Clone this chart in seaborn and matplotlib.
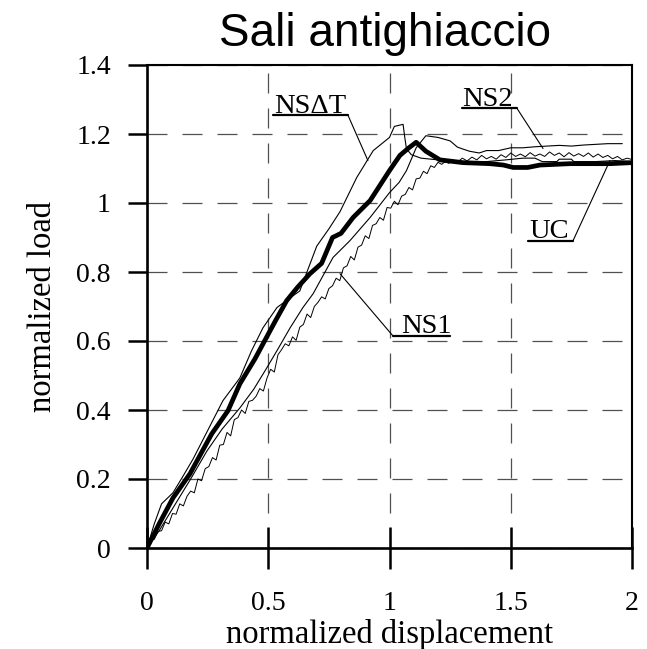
import numpy as np
import pandas as pd
import matplotlib
matplotlib.use("Agg")
import matplotlib.pyplot as plt
import seaborn as sns

# ---- data: normalized load vs normalized displacement ----
uc_x = [0, 0.05, 0.107, 0.177, 0.267, 0.334, 0.383, 0.445, 0.5, 0.53, 0.576, 0.62,
        0.672, 0.72, 0.765, 0.8, 0.85, 0.92, 1.0, 1.043, 1.08, 1.11, 1.15, 1.208,
        1.303, 1.414, 1.47, 1.51, 1.57, 1.62, 1.745, 1.91, 2.0]
uc_y = [0, 0.07, 0.145, 0.215, 0.331, 0.398, 0.476, 0.548, 0.62, 0.659, 0.717, 0.755,
        0.795, 0.825, 0.9, 0.912, 0.958, 1.007, 1.094, 1.138, 1.16, 1.176, 1.15, 1.125,
        1.117, 1.114, 1.11, 1.103, 1.103, 1.11, 1.114, 1.114, 1.117]

nsdt_x = [0, 0.03, 0.06, 0.107, 0.15, 0.19, 0.26, 0.313, 0.383, 0.43, 0.478, 0.536,
          0.58, 0.63, 0.70, 0.75, 0.796, 0.865, 0.933, 1.0, 1.02, 1.056, 1.063, 1.07,
          1.09, 1.13, 1.2, 1.3, 1.4, 1.48, 1.55, 1.6, 1.63, 1.69, 1.7, 1.75, 1.76,
          1.85, 1.93, 2.0]
nsdt_y = [0, 0.07, 0.128, 0.16, 0.21, 0.258, 0.354, 0.427, 0.493, 0.57, 0.638, 0.697,
          0.72, 0.745, 0.875, 0.925, 0.975, 1.074, 1.152, 1.19, 1.222, 1.228, 1.19, 1.157,
          1.14, 1.13, 1.125, 1.12, 1.12, 1.125, 1.13, 1.13, 1.12, 1.12, 1.127, 1.127,
          1.12, 1.12, 1.123, 1.12]

ns2_x = [0, 0.05, 0.107, 0.18, 0.247, 0.31, 0.383, 0.44, 0.487, 0.536, 0.59, 0.643,
         0.685, 0.767, 0.837, 0.92, 1.0, 1.04, 1.07, 1.11, 1.15, 1.2, 1.25, 1.28, 1.3,
         1.33, 1.37, 1.4, 1.45, 1.5, 1.55, 1.6, 1.65, 1.7, 1.75, 1.8, 1.85, 1.9, 1.96]
ns2_y = [0, 0.05, 0.116, 0.2, 0.281, 0.345, 0.406, 0.46, 0.514, 0.572, 0.638, 0.697,
         0.737, 0.842, 0.891, 0.958, 1.03, 1.06, 1.094, 1.16, 1.195, 1.19, 1.18, 1.162,
         1.157, 1.15, 1.145, 1.152, 1.152, 1.16, 1.16, 1.163, 1.165, 1.167, 1.165,
         1.168, 1.17, 1.172, 1.172]

ns1_x = [0.000, 0.015, 0.030, 0.045, 0.060, 0.075, 0.090, 0.105, 0.120, 0.135, 0.150,
         0.165, 0.180, 0.195, 0.210, 0.225, 0.240, 0.255, 0.270, 0.285, 0.300, 0.315,
         0.330, 0.345, 0.360, 0.375, 0.390, 0.405, 0.420, 0.435, 0.450, 0.465, 0.480,
         0.495, 0.510, 0.525, 0.540, 0.555, 0.570, 0.585, 0.600, 0.615, 0.630, 0.645,
         0.660, 0.675, 0.690, 0.705, 0.720, 0.735, 0.750, 0.765, 0.780, 0.795, 0.810,
         0.825, 0.840, 0.855, 0.870, 0.885, 0.900, 0.915, 0.930, 0.945, 0.960, 0.975,
         0.990, 1.005, 1.020, 1.035, 1.050, 1.065, 1.080, 1.095, 1.110, 1.125, 1.140,
         1.155, 1.170, 1.185, 1.200, 1.215, 1.230, 1.245, 1.260, 1.280, 1.300, 1.320,
         1.340, 1.360, 1.380, 1.400, 1.420, 1.440, 1.460, 1.480, 1.500, 1.520, 1.540,
         1.560, 1.580, 1.600, 1.620, 1.640, 1.660, 1.680, 1.700, 1.720, 1.740, 1.760,
         1.780, 1.800, 1.820, 1.840, 1.860, 1.880, 1.900, 1.920, 1.940, 1.960, 1.980,
         2.000]
ns1_y = [0.000, 0.022, 0.025, 0.048, 0.050, 0.075, 0.070, 0.100, 0.098, 0.128, 0.122,
         0.150, 0.165, 0.160, 0.200, 0.195, 0.230, 0.236, 0.262, 0.255, 0.298, 0.300,
         0.335, 0.325, 0.372, 0.378, 0.400, 0.390, 0.425, 0.428, 0.440, 0.462, 0.455,
         0.493, 0.518, 0.510, 0.560, 0.575, 0.592, 0.586, 0.612, 0.602, 0.640, 0.648,
         0.678, 0.668, 0.700, 0.712, 0.728, 0.722, 0.752, 0.760, 0.782, 0.775, 0.812,
         0.818, 0.845, 0.835, 0.872, 0.878, 0.905, 0.897, 0.935, 0.940, 0.958, 0.950,
         0.987, 0.985, 1.005, 0.995, 1.020, 1.025, 1.045, 1.038, 1.070, 1.072, 1.092,
         1.085, 1.108, 1.103, 1.118, 1.112, 1.120, 1.115, 1.125, 1.118, 1.130, 1.122,
         1.133, 1.125, 1.138, 1.128, 1.135, 1.127, 1.140, 1.132, 1.145, 1.135, 1.142,
         1.134, 1.146, 1.136, 1.142, 1.135, 1.148, 1.138, 1.145, 1.134, 1.146, 1.136,
         1.143, 1.135, 1.145, 1.133, 1.142, 1.132, 1.138, 1.128, 1.135, 1.125, 1.130,
         1.126]

x_ticks = [0, 0.5, 1, 1.5, 2]
x_tick_labels = ["0", "0.5", "1", "1.5", "2"]
y_ticks = [0, 0.2, 0.4, 0.6, 0.8, 1.0, 1.2, 1.4]
y_tick_labels = ["0", "0.2", "0.4", "0.6", "0.8", "1", "1.2", "1.4"]

# ---- style ----
sns.set_theme(style="white")
plt.rcParams["font.family"] = ["Liberation Serif", "DejaVu Serif"]
plt.rcParams["axes.edgecolor"] = "black"
plt.rcParams["text.color"] = "black"
plt.rcParams["axes.labelcolor"] = "black"

fig = plt.figure(figsize=(6.47, 6.49), dpi=100)
ax = fig.add_axes([147 / 647, 1 - 548 / 649, 485 / 647, 483 / 649])

curves = {
    "NSΔT": (nsdt_x, nsdt_y, 0.8),
    "NS2": (ns2_x, ns2_y, 0.8),
    "NS1": (ns1_x, ns1_y, 0.7),
    "UC": (uc_x, uc_y, 3.4),
}
for name, (cx, cy, lw) in curves.items():
    df = pd.DataFrame({"disp": cx, "load": cy})
    sns.lineplot(data=df, x="disp", y="load", ax=ax, sort=False, estimator=None,
                 color="black", linewidth=lw, zorder=3)

ax.set_xlim(0, 2)
ax.set_ylim(0, 1.4)
ax.set_xticks(x_ticks)
ax.set_xticklabels(x_tick_labels)
ax.set_yticks(y_ticks)
ax.set_yticklabels(y_tick_labels)
ax.tick_params(axis="x", direction="inout", length=30, width=1.8, pad=16,
               labelsize=20, colors="black")
ax.tick_params(axis="y", direction="out", length=14, width=1.8, pad=12,
               labelsize=20, colors="black")
ax.tick_params(bottom=True, left=True)

ax.grid(True, color="#505050", linewidth=0.9, linestyle=(0, (16, 12)))
ax.set_axisbelow(True)
for side in ["left", "bottom"]:
    ax.spines[side].set_linewidth(1.9)
for side in ["top", "right"]:
    ax.spines[side].set_linewidth(1.5)

ax.set_xlabel("normalized displacement", fontsize=23.5, labelpad=2, color="black")
ax.set_ylabel("normalized load", fontsize=23.5, labelpad=13, color="black")

# curve labels with underline and leader line
tags = [
    ("NSΔT", 0.524, 1.262, [0.519, 0.829, 0.911], [1.254, 1.254, 1.123]),
    ("NS2", 1.301, 1.282, [1.299, 1.526, 1.633], [1.274, 1.274, 1.158]),
    ("UC", 1.577, 0.899, [1.571, 1.757, 1.909], [0.891, 0.891, 1.123]),
    ("NS1", 1.05, 0.623, [1.249, 1.014, 0.796], [0.615, 0.615, 0.795]),
]
for label, tx, ty, lx, ly in tags:
    ax.text(tx, ty, label, fontsize=20.5, ha="left", va="baseline", zorder=5,
            color="black")
    ax.plot(lx[:2], ly[:2], color="black", linewidth=1.6, zorder=5)
    ax.plot(lx[1:], ly[1:], color="black", linewidth=0.8, zorder=5)

fig.text(385 / 647, 1 - 46 / 649, "Sali antighiaccio", fontsize=33, color="black",
         family=["Liberation Sans", "DejaVu Sans"], ha="center", va="baseline")

fig.savefig("out.png", dpi=100)
